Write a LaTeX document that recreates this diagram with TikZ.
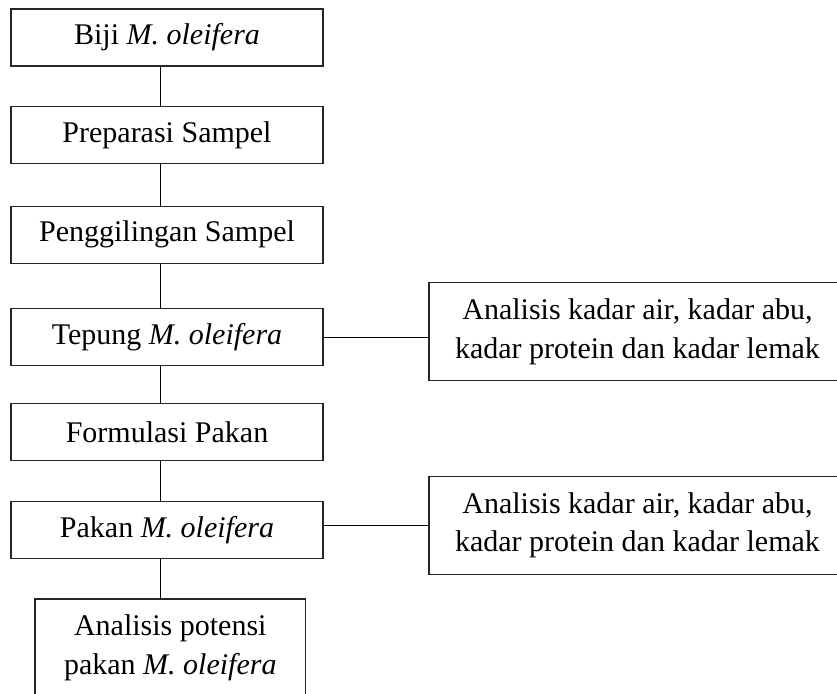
\documentclass[tikz,border=0pt]{standalone}
\usepackage{fontspec}
\setmainfont{Liberation Serif}
\begin{document}
\begin{tikzpicture}[x=1pt,y=-1pt,
  stepbox/.style={draw=black!85,line width=1.2pt,inner sep=0pt,minimum width=312pt,minimum height=57pt,align=center,font=\fontsize{30}{38.5}\selectfont},
  bigbox/.style={stepbox,minimum height=98pt},
  conn/.style={draw=black,line width=1pt}]
\useasboundingbox (0,0) rectangle (837,693);
\clip (0,0) rectangle (837,693);
\node[stepbox] (b1) at (167,37.5) {Biji \textit{M. oleifera}};
\node[stepbox] (b2) at (167,135.3) {Preparasi Sampel};
\node[stepbox] (b3) at (167,234.7) {Penggilingan Sampel};
\node[stepbox] (b4) at (167,337) {Tepung \textit{M. oleifera}};
\node[stepbox] (b5) at (167,432) {Formulasi Pakan};
\node[stepbox] (b6) at (167,530.3) {Pakan \textit{M. oleifera}};
\node[bigbox,minimum width=270.7pt] (b7) at (170.3,648) {Analisis potensi\\pakan \textit{M. oleifera}};
\node[bigbox,minimum width=417pt] (r1) at (637.5,331.7) {Analisis kadar air, kadar abu,\\kadar protein dan kadar lemak};
\node[bigbox,minimum width=417pt] (r2) at (637.5,525.2) {Analisis kadar air, kadar abu,\\kadar protein dan kadar lemak};
\draw[conn] ([xshift=-7pt]b1.south) -- ([xshift=-7pt]b2.north);
\draw[conn] ([xshift=-7pt]b2.south) -- ([xshift=-7pt]b3.north);
\draw[conn] ([xshift=-7pt]b3.south) -- ([xshift=-7pt]b4.north);
\draw[conn] ([xshift=-7pt]b4.south) -- ([xshift=-7pt]b5.north);
\draw[conn] ([xshift=-7pt]b5.south) -- ([xshift=-7pt]b6.north);
\draw[conn] ([xshift=-7pt]b6.south) -- ([xshift=-10.3pt]b7.north);
\draw[conn] (b4.east) -- (b4.east -| r1.west);
\draw[conn] (r2.west -| b6.east) -- (r2.west);
\end{tikzpicture}
\end{document}
